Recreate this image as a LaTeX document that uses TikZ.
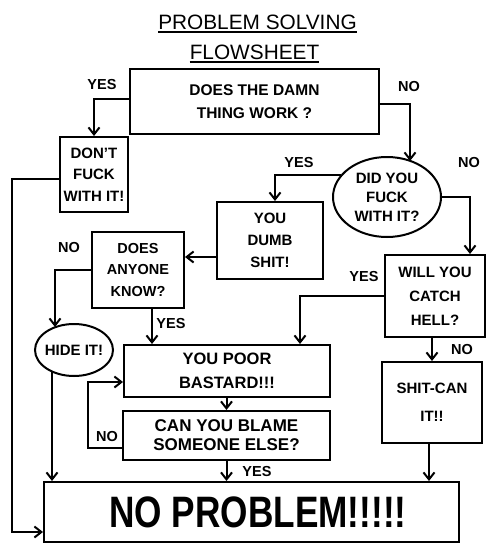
\documentclass[tikz,border=0pt]{standalone}
\usepackage{fontspec}
\setmainfont{Liberation Sans}
\usetikzlibrary{arrows.meta,shapes.geometric}
\begin{document}
\begin{tikzpicture}[x=1pt,y=-1pt,
  box/.style={draw,line width=2pt,inner sep=2pt,align=center},
  oval/.style={box,ellipse,inner sep=0pt},
  f/.style 2 args={font=\bfseries\fontsize{#1}{#2}\selectfont},
  lab/.style={font=\bfseries\fontsize{14.5}{16}\selectfont,inner sep=0pt},
  arr/.style={line width=2pt,-{Straight Barb[length=7pt,width=11pt]}},
  ln/.style={line width=2pt}]
\useasboundingbox (0,0) rectangle (500,560);
\fill[white] (0,0) rectangle (500,560);

% title
\node[inner sep=0pt,font=\fontsize{20.8}{22}\selectfont] (t1) at (257.5,22) {PROBLEM SOLVING};
\node[inner sep=0pt,font=\fontsize{20.8}{22}\selectfont] (t2) at (254.5,52) {FLOWSHEET};
\draw[line width=1.4pt] ([yshift=-3pt]t1.base west) -- ([yshift=-3pt]t1.base east);
\draw[line width=1.4pt] ([yshift=-3pt]t2.base west) -- ([yshift=-3pt]t2.base east);

% nodes
\node[box,f={15.5}{23},minimum width=249pt,minimum height=65pt] (work) at (254.5,101.5) {DOES THE DAMN\\THING WORK ?};
\node[box,f={15}{21.5},minimum width=68pt,minimum height=75pt] (dont) at (94,174.5) {DON'T\\FUCK\\WITH IT!};
\node[oval,f={15}{19},minimum width=108pt,minimum height=80pt] (did) at (387,197) {DID YOU\\FUCK\\WITH IT?};
\node[box,f={15}{22},minimum width=106pt,minimum height=77pt] (dumb) at (270,240.5) {YOU\\DUMB\\SHIT!};
\node[box,f={14.5}{21.5},minimum width=92pt,minimum height=76pt] (anyone) at (138,270) {DOES\\ANYONE\\KNOW?};
\node[oval,f={15}{17},minimum width=78pt,minimum height=52pt] (hide) at (74,350) {\makebox[40pt]{HIDE IT!}};
\node[box,f={15}{24},minimum width=100pt,minimum height=82pt] (will) at (435,296) {WILL YOU\\CATCH\\HELL?};
\node[box,f={15}{28},minimum width=100pt,minimum height=81pt] (shit) at (432,402.5) {SHIT-CAN\\IT!!};
\node[box,f={16.5}{23.5},minimum width=206pt,minimum height=52pt] (poor) at (227,371) {YOU POOR\\BASTARD!!!};
\node[box,f={17}{19},minimum width=207pt,minimum height=49pt] (blame) at (226.5,435.5) {CAN YOU BLAME\\SOMEONE ELSE?};
\node[box,minimum width=415pt,minimum height=60pt] (noprob) at (251.5,512) {\hspace*{13pt}\scalebox{0.8}[1]{\bfseries\fontsize{44}{44}\selectfont NO PROBLEM!!!!!}};

% helper coordinates
\coordinate (c1) at (410,104);
\coordinate (c2) at (410,161);
\coordinate (c3) at (275,0);
\coordinate (c4) at (470,0);
\coordinate (c5) at (0,257);
\coordinate (c6) at (55,270);
\coordinate (c7) at (55,327);
\coordinate (c8) at (152,0);
\coordinate (c9) at (300,0);
\coordinate (c10) at (429,0);
\coordinate (b1) at (88,448);
\coordinate (b2) at (88,382);
\coordinate (h1) at (52,371.5);
\coordinate (l1) at (12,179);
\coordinate (l2) at (12,532);
\coordinate (w0) at (0,99);

% connectors
\draw[arr] (work.west |- w0) -| (dont.north);
\draw[arr] (work.east |- c1) -- (c1) -- (c2);
\draw[arr] (did.154) -| (dumb.north -| c3);
\draw[arr] (did.east) -| (will.north -| c4);
\draw[arr] (dumb.west |- c5) -- (anyone.east |- c5);
\draw[arr] (anyone.west) -- (c6) -- (c7);
\draw[arr] (anyone.south -| c8) -- (poor.north -| c8);
\draw[arr] (will.west) -| (poor.north -| c9);
\draw[arr] (will.south -| shit.north) -- (shit.north);
\draw[arr] (shit.south -| c10) -- (noprob.north -| c10);
\draw[arr] (poor.south -| blame.north) -- (blame.north);
\draw[arr] (blame.south) -- (blame.south |- noprob.north);
\draw[arr] (blame.west |- b1) -- (b1) -- (b2) -- (b2 -| poor.west);
\draw[arr] (h1) -- (h1 |- noprob.north);
\draw[arr] (dont.west |- l1) -- (l1) -- (l2) -- (l2 -| noprob.west);

% labels
\node[lab] (y1) at (102,85) {YES};
\node[lab] (n1) at (409,87) {NO};
\node[lab] (y2) at (299,163) {YES};
\node[lab] (n2) at (469,163) {NO};
\node[lab] (n3) at (69,248) {NO};
\node[lab] (y3) at (171,324) {YES};
\node[lab] (y4) at (364,277) {YES};
\node[lab] (n4) at (462,350) {NO};
\node[lab] (n5) at (107,437) {NO};
\node[lab] (y5) at (257,472) {YES};
\end{tikzpicture}
\end{document}
